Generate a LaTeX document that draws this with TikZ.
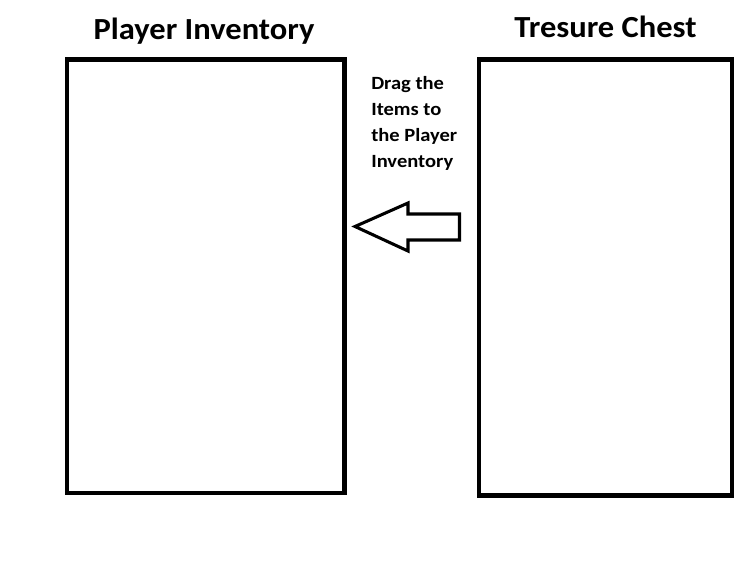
\documentclass[tikz,border=0pt]{standalone}
\usepackage{fontspec}
\setmainfont{Carlito}
\newfontfamily\titlefont[FakeStretch=1.06]{Carlito}
\newfontfamily\hintfont[FakeStretch=1.1]{Carlito}
\begin{document}
\begin{tikzpicture}[x=0.75pt,y=-0.75pt,
  panel/.style={draw=black,line width=3.4pt,fill=white,inner sep=0pt},
  title/.style={font=\titlefont\bfseries\fontsize{23}{27}\selectfont,anchor=base,inner sep=0pt},
  hint/.style={font=\hintfont\bfseries\fontsize{14}{19.5}\selectfont,anchor=base west,inner sep=0pt},
  bigarrow/.style={draw=black,line width=2.3pt,line join=miter,fill=white}]
\useasboundingbox (0,0) rectangle (746,564);
\fill[white] (0,0) rectangle (746,564);
% panels
\node[panel,minimum width=208.1pt,minimum height=325.1pt] (inv) at (205.75,276.25) {};
\node[panel,minimum width=189.75pt,minimum height=327pt] (chest) at (605.5,277.5) {};
% titles
\node[title] (invtitle) at (204,39.5) {Player Inventory};
\node[title] (chesttitle) at (605.5,37.5) {Tresure Chest};
% hint text
\node[hint] (hint1) at (371,89) {Drag the};
\node[hint] (hint2) at (371,115) {Items to};
\node[hint] (hint3) at (371,141) {the Player};
\node[hint] (hint4) at (371,167) {Inventory};
% arrow
\coordinate (tip) at (355,226.5);
\draw[bigarrow] (tip) -- (408,203) -- (408,214) -- (459.5,214) -- (459.5,240) -- (408,240) -- (408,251) -- cycle;
\end{tikzpicture}
\end{document}
